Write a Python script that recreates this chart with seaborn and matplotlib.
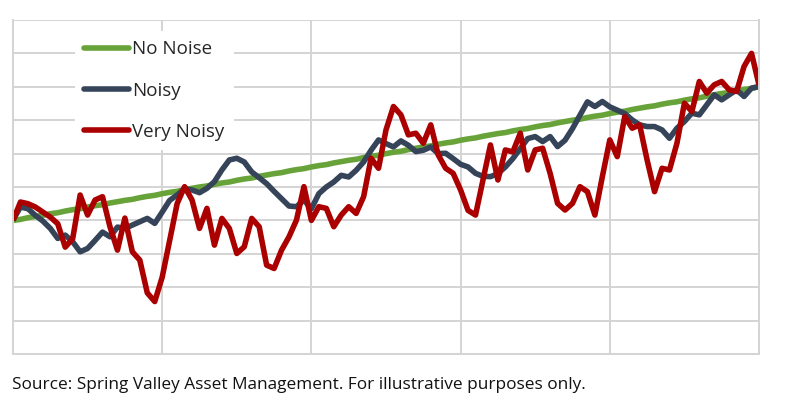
import matplotlib
matplotlib.use("Agg")
import matplotlib.pyplot as plt
import numpy as np
import pandas as pd
import seaborn as sns

# ── data ──────────────────────────────────────────────────────────────────────
periods = list(range(101))

no_noise = [
    4.00, 4.03, 4.08, 4.12, 4.15, 4.20, 4.23, 4.28, 4.32, 4.35,
    4.40, 4.44, 4.47, 4.52, 4.56, 4.60, 4.63, 4.68, 4.72, 4.75,
    4.80, 4.84, 4.87, 4.92, 4.96, 5.00, 5.03, 5.08, 5.12, 5.15,
    5.20, 5.24, 5.27, 5.32, 5.36, 5.40, 5.43, 5.48, 5.52, 5.55,
    5.60, 5.64, 5.67, 5.72, 5.76, 5.80, 5.83, 5.88, 5.92, 5.95,
    6.00, 6.04, 6.07, 6.12, 6.16, 6.20, 6.23, 6.28, 6.32, 6.35,
    6.40, 6.44, 6.47, 6.52, 6.56, 6.60, 6.63, 6.68, 6.72, 6.75,
    6.80, 6.84, 6.87, 6.92, 6.96, 7.00, 7.03, 7.08, 7.12, 7.15,
    7.20, 7.24, 7.27, 7.32, 7.36, 7.40, 7.43, 7.48, 7.52, 7.55,
    7.60, 7.64, 7.67, 7.72, 7.76, 7.80, 7.83, 7.88, 7.92, 7.95, 8.00,
]

noisy = [
    4.01, 4.40, 4.35, 4.15, 3.98, 3.76, 3.46, 3.56, 3.36, 3.06,
    3.16, 3.40, 3.65, 3.51, 3.80, 3.76, 3.86, 3.96, 4.06, 3.91,
    4.25, 4.60, 4.76, 4.95, 4.91, 4.83, 4.96, 5.16, 5.51, 5.81,
    5.86, 5.75, 5.45, 5.28, 5.10, 4.87, 4.65, 4.43, 4.41, 4.61,
    4.35, 4.80, 5.00, 5.15, 5.35, 5.30, 5.50, 5.75, 6.10, 6.41,
    6.30, 6.20, 6.38, 6.25, 6.06, 6.10, 6.20, 6.00, 6.01, 5.85,
    5.68, 5.60, 5.41, 5.32, 5.31, 5.40, 5.60, 5.85, 6.15, 6.45,
    6.51, 6.36, 6.51, 6.21, 6.40, 6.75, 7.15, 7.55, 7.41, 7.56,
    7.40, 7.30, 7.20, 7.01, 6.86, 6.81, 6.81, 6.71, 6.46, 6.76,
    6.96, 7.21, 7.16, 7.46, 7.76, 7.61, 7.76, 7.91, 7.71, 7.96, 8.01,
]

very_noisy = [
    4.00, 4.55, 4.50, 4.40, 4.25, 4.10, 3.90, 3.20, 3.45, 4.76,
    4.16, 4.61, 4.71, 3.81, 3.11, 4.07, 3.06, 2.81, 1.83, 1.57,
    2.30, 3.40, 4.50, 5.01, 4.61, 3.76, 4.36, 3.26, 4.06, 3.76,
    3.01, 3.21, 4.06, 3.81, 2.66, 2.56, 3.11, 3.51, 4.01, 5.01,
    4.00, 4.41, 4.36, 3.81, 4.16, 4.41, 4.21, 4.71, 5.86, 5.56,
    6.71, 7.41, 7.16, 6.56, 6.61, 6.31, 6.86, 5.96, 5.56, 5.41,
    4.91, 4.30, 4.16, 5.21, 6.26, 5.21, 6.11, 6.05, 6.61, 5.51,
    6.11, 6.16, 5.41, 4.51, 4.31, 4.51, 5.01, 4.86, 4.16, 5.31,
    6.41, 5.91, 7.11, 6.76, 6.86, 5.81, 4.86, 5.56, 5.51, 6.31,
    7.51, 7.26, 8.16, 7.81, 8.06, 8.16, 7.91, 7.86, 8.61, 9.00, 8.06,
]

series_names = ["No Noise", "Noisy", "Very Noisy"]
colors = ["#67A339", "#364459", "#AA0000"]
source_note = "Source: Spring Valley Asset Management. For illustrative purposes only."

# ── long table for seaborn ────────────────────────────────────────────────────
df = pd.concat([
    pd.DataFrame({"period": periods, "value": vals, "series": name})
    for name, vals in zip(series_names, [no_noise, noisy, very_noisy])
], ignore_index=True)

sns.set_style("white")
plt.rcParams["font.family"] = ["Open Sans", "DejaVu Sans"]

fig = plt.figure(figsize=(7.9, 4.18), dpi=100)
ax = fig.add_axes([13 / 790, 1 - 354 / 418, 746 / 790, 334 / 418])

sns.lineplot(
    data=df, x="period", y="value", hue="series",
    hue_order=series_names, palette=colors,
    linewidth=4.0, ax=ax, legend=False,
)
for line in ax.get_lines():
    line.set_solid_joinstyle("round")
    line.set_solid_capstyle("butt")

ax.set_xlim(0, 100)
ax.set_ylim(0, 10)
ax.set_xticks(np.arange(0, 101, 20))
ax.set_yticks(np.arange(0, 11, 1))
ax.tick_params(length=0, labelbottom=False, labelleft=False)
ax.set_xlabel("")
ax.set_ylabel("")
ax.grid(True, color="#d4d4d4", linewidth=1.4)
ax.set_axisbelow(True)
for side in ["top", "right", "left", "bottom"]:
    ax.spines[side].set_color("#d4d4d4")
    ax.spines[side].set_linewidth(1.4)
ax.spines["top"].set_visible(False)

handles = [plt.Line2D([], [], color=c, linewidth=4.0, solid_capstyle="round")
           for c in colors]
leg = ax.legend(
    handles, series_names, loc="upper left",
    bbox_to_anchor=(0.083, 0.968), frameon=True, fancybox=False,
    fontsize=13.5, handlelength=2.4, handletextpad=0.15,
    labelspacing=1.25, borderpad=0.5, borderaxespad=0,
)
leg.get_frame().set_facecolor("white")
leg.get_frame().set_edgecolor("none")
leg.get_frame().set_alpha(1)

fig.text(12 / 790, 1 - 385 / 418, source_note, fontsize=12.45,
         ha="left", va="center", color="#111111")

fig.savefig("out.png", dpi=100)
